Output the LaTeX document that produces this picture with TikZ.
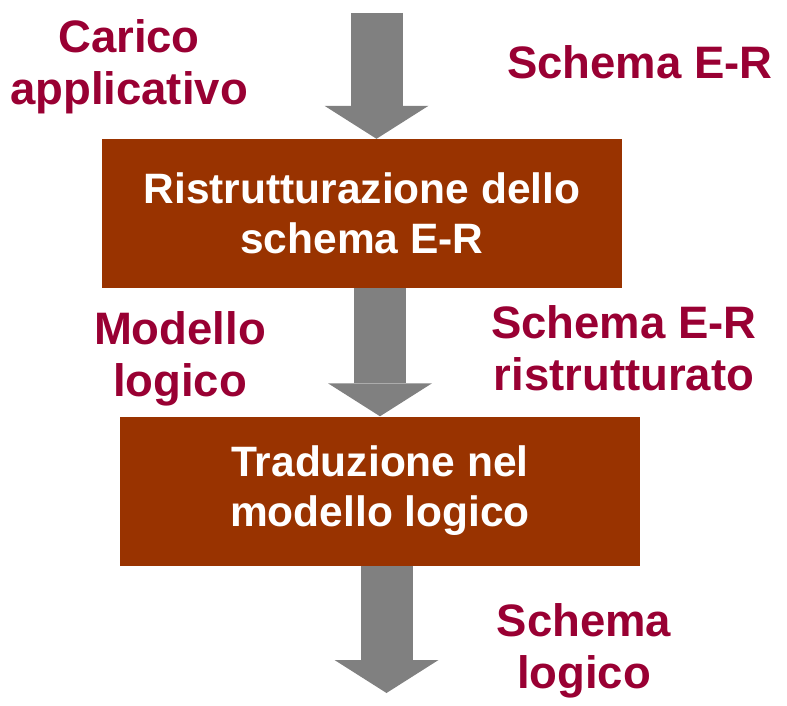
\documentclass[tikz,border=0pt]{standalone}
\usepackage{fontspec}
\setmainfont{Liberation Sans}
\usetikzlibrary{arrows.meta}
\definecolor{boxbrown}{RGB}{153,51,0}
\definecolor{labelred}{RGB}{153,0,51}
\definecolor{arrowgray}{RGB}{128,128,128}

\begin{document}
\begin{tikzpicture}[x=1pt,y=-1pt,
    phase/.style={rectangle, fill=boxbrown, text=white, align=center,
      font=\bfseries\fontsize{42.5}{50}\selectfont,
      minimum width=520pt, minimum height=149pt, inner sep=0pt},
    datalabel/.style={text=labelred, align=center, inner sep=0pt,
      font=\bfseries\fontsize{45.5}{52}\selectfont},
    bigarrow/.style={draw=arrowgray, line width=52pt,
      -{Triangle[width=104pt,length=33pt,line width=0pt]}}]
    \useasboundingbox (0,0) rectangle (787,706);
    % the two phases
    \node[phase] (ristr) at (362,213.5) {Ristrutturazione dello\\schema E-R};
    \node[phase] (trad) at (380,491) {Traduzione nel\\modello logico};
    % flow
    \coordinate (input) at (376.5,13);
    \coordinate (output) at (386.5,693);
    \draw[bigarrow] (input) -- (input |- ristr.north);
    \draw[bigarrow] (ristr.south -| trad.north) -- (trad.north);
    \draw[bigarrow] (trad.south -| output) -- (output);
    % inputs and outputs
    \node[datalabel] (carico) at (129,67) {Carico\\applicativo};
    \node[datalabel] (schemaer) at (640,62) {Schema E-R};
    \node[datalabel] (modello) at (180,359) {Modello\\logico};
    \node[datalabel] (ristrutturato) at (624,348.5) {Schema E-R\\ristrutturato};
    \node[datalabel] (schemalogico) at (584,650.5) {Schema\\logico};
\end{tikzpicture}
\end{document}
